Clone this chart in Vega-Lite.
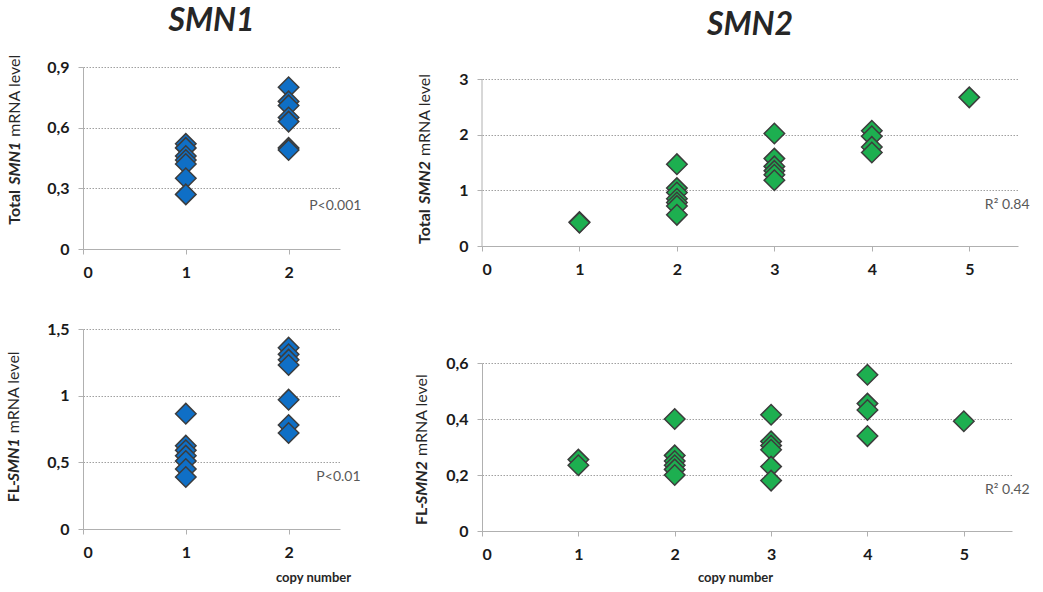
{
  "$schema": "https://vega.github.io/schema/vega-lite/v6.json",
  "background": "white",
  "padding": {"left": 6, "top": 5, "right": 0, "bottom": 0},
  "datasets": {
    "expr": [
      {"gene": "SMN1", "measure": "Total", "copy": 1, "level": 0.52},
      {"gene": "SMN1", "measure": "Total", "copy": 1, "level": 0.50},
      {"gene": "SMN1", "measure": "Total", "copy": 1, "level": 0.46},
      {"gene": "SMN1", "measure": "Total", "copy": 1, "level": 0.44},
      {"gene": "SMN1", "measure": "Total", "copy": 1, "level": 0.42},
      {"gene": "SMN1", "measure": "Total", "copy": 1, "level": 0.35},
      {"gene": "SMN1", "measure": "Total", "copy": 1, "level": 0.27},
      {"gene": "SMN1", "measure": "Total", "copy": 2, "level": 0.80},
      {"gene": "SMN1", "measure": "Total", "copy": 2, "level": 0.73},
      {"gene": "SMN1", "measure": "Total", "copy": 2, "level": 0.71},
      {"gene": "SMN1", "measure": "Total", "copy": 2, "level": 0.65},
      {"gene": "SMN1", "measure": "Total", "copy": 2, "level": 0.63},
      {"gene": "SMN1", "measure": "Total", "copy": 2, "level": 0.50},
      {"gene": "SMN1", "measure": "Total", "copy": 2, "level": 0.49},
      {"gene": "SMN1", "measure": "FL", "copy": 1, "level": 0.865},
      {"gene": "SMN1", "measure": "FL", "copy": 1, "level": 0.625},
      {"gene": "SMN1", "measure": "FL", "copy": 1, "level": 0.59},
      {"gene": "SMN1", "measure": "FL", "copy": 1, "level": 0.55},
      {"gene": "SMN1", "measure": "FL", "copy": 1, "level": 0.51},
      {"gene": "SMN1", "measure": "FL", "copy": 1, "level": 0.45},
      {"gene": "SMN1", "measure": "FL", "copy": 1, "level": 0.39},
      {"gene": "SMN1", "measure": "FL", "copy": 2, "level": 1.36},
      {"gene": "SMN1", "measure": "FL", "copy": 2, "level": 1.31},
      {"gene": "SMN1", "measure": "FL", "copy": 2, "level": 1.27},
      {"gene": "SMN1", "measure": "FL", "copy": 2, "level": 1.23},
      {"gene": "SMN1", "measure": "FL", "copy": 2, "level": 0.97},
      {"gene": "SMN1", "measure": "FL", "copy": 2, "level": 0.78},
      {"gene": "SMN1", "measure": "FL", "copy": 2, "level": 0.72},
      {"gene": "SMN2", "measure": "Total", "copy": 1, "level": 0.43},
      {"gene": "SMN2", "measure": "Total", "copy": 1, "level": 0.42},
      {"gene": "SMN2", "measure": "Total", "copy": 2, "level": 1.47},
      {"gene": "SMN2", "measure": "Total", "copy": 2, "level": 1.04},
      {"gene": "SMN2", "measure": "Total", "copy": 2, "level": 0.96},
      {"gene": "SMN2", "measure": "Total", "copy": 2, "level": 0.85},
      {"gene": "SMN2", "measure": "Total", "copy": 2, "level": 0.78},
      {"gene": "SMN2", "measure": "Total", "copy": 2, "level": 0.72},
      {"gene": "SMN2", "measure": "Total", "copy": 2, "level": 0.56},
      {"gene": "SMN2", "measure": "Total", "copy": 3, "level": 2.02},
      {"gene": "SMN2", "measure": "Total", "copy": 3, "level": 1.57},
      {"gene": "SMN2", "measure": "Total", "copy": 3, "level": 1.43},
      {"gene": "SMN2", "measure": "Total", "copy": 3, "level": 1.35},
      {"gene": "SMN2", "measure": "Total", "copy": 3, "level": 1.28},
      {"gene": "SMN2", "measure": "Total", "copy": 3, "level": 1.18},
      {"gene": "SMN2", "measure": "Total", "copy": 4, "level": 2.07},
      {"gene": "SMN2", "measure": "Total", "copy": 4, "level": 1.97},
      {"gene": "SMN2", "measure": "Total", "copy": 4, "level": 1.78},
      {"gene": "SMN2", "measure": "Total", "copy": 4, "level": 1.68},
      {"gene": "SMN2", "measure": "Total", "copy": 5, "level": 2.67},
      {"gene": "SMN2", "measure": "FL", "copy": 1, "level": 0.255},
      {"gene": "SMN2", "measure": "FL", "copy": 1, "level": 0.235},
      {"gene": "SMN2", "measure": "FL", "copy": 2, "level": 0.40},
      {"gene": "SMN2", "measure": "FL", "copy": 2, "level": 0.27},
      {"gene": "SMN2", "measure": "FL", "copy": 2, "level": 0.25},
      {"gene": "SMN2", "measure": "FL", "copy": 2, "level": 0.235},
      {"gene": "SMN2", "measure": "FL", "copy": 2, "level": 0.22},
      {"gene": "SMN2", "measure": "FL", "copy": 2, "level": 0.20},
      {"gene": "SMN2", "measure": "FL", "copy": 3, "level": 0.415},
      {"gene": "SMN2", "measure": "FL", "copy": 3, "level": 0.32},
      {"gene": "SMN2", "measure": "FL", "copy": 3, "level": 0.305},
      {"gene": "SMN2", "measure": "FL", "copy": 3, "level": 0.29},
      {"gene": "SMN2", "measure": "FL", "copy": 3, "level": 0.23},
      {"gene": "SMN2", "measure": "FL", "copy": 3, "level": 0.18},
      {"gene": "SMN2", "measure": "FL", "copy": 4, "level": 0.558},
      {"gene": "SMN2", "measure": "FL", "copy": 4, "level": 0.455},
      {"gene": "SMN2", "measure": "FL", "copy": 4, "level": 0.432},
      {"gene": "SMN2", "measure": "FL", "copy": 4, "level": 0.339},
      {"gene": "SMN2", "measure": "FL", "copy": 5, "level": 0.392}
    ]
  },
  "columns": 2,
  "align": "none",
  "spacing": 52,
  "concat": [
    {
      "spacing": 41,
      "vconcat": [
        {
          "width": 257, "height": 182,
          "title": {"text": "SMN1", "fontSize": 32, "fontStyle": "italic", "fontWeight": "bold", "color": "#262626", "offset": 16},
          "layer": [
            {
              "data": {"name": "expr"},
              "transform": [{"filter": "datum.gene === 'SMN1' && datum.measure === 'Total'"}],
              "mark": {"type": "point", "shape": "diamond", "filled": true, "size": 420, "fill": "#0F6FC6", "stroke": "#3c3c3c", "strokeWidth": 1.5, "opacity": 1},
              "encoding": {
                "x": {"field": "copy", "type": "quantitative", "scale": {"domain": [0, 2.5], "nice": false}, "axis": {"values": [0, 1, 2], "format": "d", "title": null}},
                "y": {"field": "level", "type": "quantitative", "scale": {"domain": [0, 0.9], "nice": false}, "axis": {"values": [0, 0.3, 0.6, 0.9], "labelExpr": "replace(format(datum.value, '.1~f'), '.', ',')"}}
              }
            },
            {"data": {"values": [{}]}, "mark": {"type": "text", "align": "left", "baseline": "middle", "fontSize": 14, "color": "#595959"},
             "encoding": {"x": {"datum": 2.2}, "y": {"datum": 0.213}, "text": {"value": "P<0.001"}}},
            {"data": {"values": [{}]}, "mark": {"type": "text", "angle": 270, "align": "left", "baseline": "middle", "fontSize": 16, "fontWeight": "bold", "color": "#262626", "dx": 0},
             "encoding": {"x": {"datum": -0.66}, "y": {"datum": 0.12}, "text": {"value": "Total"}}},
            {"data": {"values": [{}]}, "mark": {"type": "text", "angle": 270, "align": "left", "baseline": "middle", "fontSize": 16, "fontWeight": "bold", "fontStyle": "italic", "color": "#262626", "dx": 40},
             "encoding": {"x": {"datum": -0.66}, "y": {"datum": 0.12}, "text": {"value": "SMN1"}}},
            {"data": {"values": [{}]}, "mark": {"type": "text", "angle": 270, "align": "left", "baseline": "middle", "fontSize": 16, "color": "#262626", "dx": 88},
             "encoding": {"x": {"datum": -0.66}, "y": {"datum": 0.12}, "text": {"value": "mRNA level"}}}
          ]
        },
        {
          "width": 257, "height": 200,
          "layer": [
            {
              "data": {"name": "expr"},
              "transform": [{"filter": "datum.gene === 'SMN1' && datum.measure === 'FL'"}],
              "mark": {"type": "point", "shape": "diamond", "filled": true, "size": 420, "fill": "#0F6FC6", "stroke": "#3c3c3c", "strokeWidth": 1.5, "opacity": 1},
              "encoding": {
                "x": {"field": "copy", "type": "quantitative", "scale": {"domain": [0, 2.5], "nice": false}, "axis": {"values": [0, 1, 2], "format": "d", "title": "copy number", "titleX": 230, "titleY": 48, "titleAnchor": null, "titleAlign": "center", "titleBaseline": "middle"}},
                "y": {"field": "level", "type": "quantitative", "scale": {"domain": [0, 1.5], "nice": false}, "axis": {"values": [0, 0.5, 1, 1.5], "labelExpr": "replace(format(datum.value, '.1~f'), '.', ',')"}}
              }
            },
            {"data": {"values": [{}]}, "mark": {"type": "text", "align": "left", "baseline": "middle", "fontSize": 14, "color": "#595959"},
             "encoding": {"x": {"datum": 2.27}, "y": {"datum": 0.39}, "text": {"value": "P<0.01"}}},
            {"data": {"values": [{}]}, "mark": {"type": "text", "angle": 270, "align": "left", "baseline": "middle", "fontSize": 16, "fontWeight": "bold", "color": "#262626", "dx": 0},
             "encoding": {"x": {"datum": -0.67}, "y": {"datum": 0.2}, "text": {"value": "FL-"}}},
            {"data": {"values": [{}]}, "mark": {"type": "text", "angle": 270, "align": "left", "baseline": "middle", "fontSize": 16, "fontWeight": "bold", "fontStyle": "italic", "color": "#262626", "dx": 21},
             "encoding": {"x": {"datum": -0.67}, "y": {"datum": 0.2}, "text": {"value": "SMN1"}}},
            {"data": {"values": [{}]}, "mark": {"type": "text", "angle": 270, "align": "left", "baseline": "middle", "fontSize": 16, "color": "#262626", "dx": 69},
             "encoding": {"x": {"datum": -0.67}, "y": {"datum": 0.2}, "text": {"value": "mRNA level"}}}
          ]
        }
      ]
    },
    {
      "spacing": 78,
      "vconcat": [
        {
          "width": 536, "height": 179,
          "title": {"text": "SMN2", "fontSize": 32, "fontStyle": "italic", "fontWeight": "bold", "color": "#262626", "offset": 25},
          "layer": [
            {"data": {"values": [{}]}, "mark": {"type": "rule", "color": "#b0b0b0", "strokeWidth": 1},
             "encoding": {"x": {"datum": 0}, "y": {"datum": 0}, "y2": {"datum": 3}}},
            {
              "data": {"name": "expr"},
              "transform": [{"filter": "datum.gene === 'SMN2' && datum.measure === 'Total'"}],
              "mark": {"type": "point", "shape": "diamond", "filled": true, "size": 420, "fill": "#1DAF50", "stroke": "#3c3c3c", "strokeWidth": 1.5, "opacity": 1},
              "encoding": {
                "x": {"field": "copy", "type": "quantitative", "scale": {"domain": [0, 5.5], "nice": false}, "axis": {"values": [0, 1, 2, 3, 4, 5], "format": "d", "title": null}},
                "y": {"field": "level", "type": "quantitative", "scale": {"domain": [0, 3.2156], "nice": false}, "axis": {"values": [0, 1, 2, 3], "domain": false, "labelExpr": "replace(format(datum.value, '.1~f'), '.', ',')"}}
              }
            },
            {"data": {"values": [{}]}, "mark": {"type": "text", "align": "left", "baseline": "middle", "fontSize": 14, "color": "#595959"},
             "encoding": {"x": {"datum": 5.16}, "y": {"datum": 0.74}, "text": {"value": "R² 0.84"}}},
            {"data": {"values": [{}]}, "mark": {"type": "text", "angle": 270, "align": "left", "baseline": "middle", "fontSize": 16, "fontWeight": "bold", "color": "#262626", "dx": 0},
             "encoding": {"x": {"datum": -0.585}, "y": {"datum": 0.036}, "text": {"value": "Total"}}},
            {"data": {"values": [{}]}, "mark": {"type": "text", "angle": 270, "align": "left", "baseline": "middle", "fontSize": 16, "fontWeight": "bold", "fontStyle": "italic", "color": "#262626", "dx": 40},
             "encoding": {"x": {"datum": -0.585}, "y": {"datum": 0.036}, "text": {"value": "SMN2"}}},
            {"data": {"values": [{}]}, "mark": {"type": "text", "angle": 270, "align": "left", "baseline": "middle", "fontSize": 16, "color": "#262626", "dx": 88},
             "encoding": {"x": {"datum": -0.585}, "y": {"datum": 0.036}, "text": {"value": "mRNA level"}}}
          ]
        },
        {
          "width": 530, "height": 168,
          "layer": [
            {
              "data": {"name": "expr"},
              "transform": [{"filter": "datum.gene === 'SMN2' && datum.measure === 'FL'"}],
              "mark": {"type": "point", "shape": "diamond", "filled": true, "size": 420, "fill": "#1DAF50", "stroke": "#3c3c3c", "strokeWidth": 1.5, "opacity": 1},
              "encoding": {
                "x": {"field": "copy", "type": "quantitative", "scale": {"domain": [0, 5.5], "nice": false}, "axis": {"values": [0, 1, 2, 3, 4, 5], "format": "d", "title": "copy number", "titleX": 253, "titleY": 46, "titleAnchor": null, "titleAlign": "center", "titleBaseline": "middle"}},
                "y": {"field": "level", "type": "quantitative", "scale": {"domain": [0, 0.6], "nice": false}, "axis": {"values": [0, 0.2, 0.4, 0.6], "labelExpr": "replace(format(datum.value, '.1~f'), '.', ',')"}}
              }
            },
            {"data": {"values": [{}]}, "mark": {"type": "text", "align": "left", "baseline": "middle", "fontSize": 14, "color": "#595959"},
             "encoding": {"x": {"datum": 5.22}, "y": {"datum": 0.146}, "text": {"value": "R² 0.42"}}},
            {"data": {"values": [{}]}, "mark": {"type": "text", "angle": 270, "align": "left", "baseline": "middle", "fontSize": 16, "fontWeight": "bold", "color": "#262626", "dx": 0},
             "encoding": {"x": {"datum": -0.62}, "y": {"datum": 0.021}, "text": {"value": "FL-"}}},
            {"data": {"values": [{}]}, "mark": {"type": "text", "angle": 270, "align": "left", "baseline": "middle", "fontSize": 16, "fontWeight": "bold", "fontStyle": "italic", "color": "#262626", "dx": 21},
             "encoding": {"x": {"datum": -0.62}, "y": {"datum": 0.021}, "text": {"value": "SMN2"}}},
            {"data": {"values": [{}]}, "mark": {"type": "text", "angle": 270, "align": "left", "baseline": "middle", "fontSize": 16, "color": "#262626", "dx": 69},
             "encoding": {"x": {"datum": -0.62}, "y": {"datum": 0.021}, "text": {"value": "mRNA level"}}}
          ]
        }
      ]
    }
  ],
  "config": {
    "font": "Lato",
    "view": {"stroke": null},
    "title": {"font": "Lato", "anchor": "middle"},
    "text": {"font": "Lato"},
    "axis": {
      "domainColor": "#b0b0b0", "tickColor": "#b0b0b0", "tickSize": 5,
      "labelFont": "Lato", "labelFontWeight": "bold", "labelFontSize": 16, "labelColor": "#1a1a1a",
      "gridColor": "#a0a0a0", "gridDash": [1.5, 1.5],
      "titleFont": "Lato", "titleFontSize": 13, "titleFontWeight": "bold", "titleColor": "#262626"
    },
    "axisX": {"grid": false, "labelPadding": 10},
    "axisY": {"grid": true, "labelPadding": 9, "title": null}
  }
}
